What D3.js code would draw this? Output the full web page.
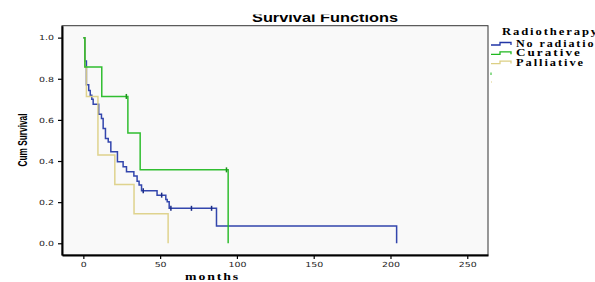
<!DOCTYPE html>
<html>
<head>
<meta charset="utf-8">
<script src="https://cdn.jsdelivr.net/npm/d3@7"></script>
<style>
  body { margin: 0; background: #fff; }
  svg { display: block; }
</style>
</head>
<body>
<script>
// Data (months, cumulative survival)
const groups = ["No radiation", "Curative", "Palliative"];
const colors = ["#2236a6", "#1fb81f", "#dccf84"];

const noRadTime = [0, 1, 2, 3.5, 4.5, 5.5, 6.4, 10, 11.8, 12.9, 14.4, 16.2, 17.9, 22.2, 25.9, 28.1, 32.9, 35, 36.3, 37.9, 48, 53.7, 54.6, 55.9, 86.7, 204];
const noRadSurv = [1, 0.886, 0.771, 0.743, 0.72, 0.7, 0.676, 0.628, 0.607, 0.558, 0.51, 0.493, 0.445, 0.396, 0.372, 0.348, 0.327, 0.302, 0.283, 0.255, 0.234, 0.213, 0.202, 0.17, 0.084, 0];
const noRadCensor = [39, 51, 57, 70.4, 83.5];

const curTime = [0, 1, 12, 29, 37, 94.3];
const curSurv = [1, 0.857, 0.714, 0.536, 0.357, 0];
const curCensor = [28, 93.2];

const palTime = [0, 1, 2, 9.5, 20.5, 33, 55.2];
const palSurv = [1, 0.857, 0.714, 0.429, 0.286, 0.143, 0];
const palCensor = [];

const xTicks = [0, 50, 100, 150, 200, 250];
const yTicks = [0, 0.2, 0.4, 0.6, 0.8, 1.0];

// Parameters
const w = 595;
const h = 282;
const plotL = 62, plotR = 488, plotT = 25.7, plotB = 255;

const svg = d3.select("body").append("svg").attr("width", w).attr("height", h);

const xScale = d3.scaleLinear().domain([-13.9, 263.5]).range([plotL, plotR]);
const yScale = d3.scaleLinear().domain([-0.057, 1.058]).range([plotB, plotT]);

// plot background + frame
svg.append("rect")
  .attr("x", plotL).attr("y", plotT)
  .attr("width", plotR - plotL).attr("height", plotB - plotT)
  .attr("fill", "#f9f9f9")
  .attr("stroke", "#333").attr("stroke-width", 1);

// axes
const digitW = (s) => s.split("").reduce((a, c) => a + (c === "." ? 3 : 6), 0);

const xAxis = d3.axisBottom(xScale).tickValues(xTicks).tickSize(4).tickSizeOuter(0).tickPadding(3).tickFormat(d3.format("d"));
const yAxis = d3.axisLeft(yScale).tickValues(yTicks).tickSize(4).tickSizeOuter(0).tickPadding(4).tickFormat(d3.format(".1f"));

const gx = svg.append("g")
  .attr("transform", "translate(0," + plotB + ")")
  .call(xAxis);
const gy = svg.append("g")
  .attr("transform", "translate(" + plotL + ",0)")
  .call(yAxis);

[gx, gy].forEach((g) => {
  g.select(".domain").attr("stroke", "#000").attr("stroke-width", 2);
  g.selectAll(".tick line").attr("stroke", "#000").attr("stroke-width", 1.2);
  g.selectAll(".tick text")
    .attr("font-family", "DejaVu Sans, sans-serif")
    .attr("font-size", 7)
    .attr("fill", "#222")
    .attr("textLength", function () { return digitW(this.textContent); })
    .attr("lengthAdjust", "spacingAndGlyphs");
});

// curves
const line = d3.line()
  .x((d) => xScale(d[0]))
  .y((d) => yScale(d[1]))
  .curve(d3.curveStepAfter);

const stepAt = (times, surv, t) => {
  let s = surv[0];
  times.forEach((ti, i) => { if (ti <= t) s = surv[i]; });
  return s;
};

const series = [
  { time: noRadTime, surv: noRadSurv, censor: noRadCensor, color: colors[0] },
  { time: palTime, surv: palSurv, censor: palCensor, color: colors[2] },
  { time: curTime, surv: curSurv, censor: curCensor, color: colors[1] },
];

series.forEach((s) => {
  const pts = s.time.map((t, i) => [t, s.surv[i]]);
  svg.append("path")
    .datum(pts)
    .attr("d", line)
    .attr("fill", "none")
    .attr("stroke", s.color)
    .attr("stroke-width", 1.5)
    .attr("opacity", 0.92);

  svg.selectAll(null)
    .data(s.censor)
    .enter()
    .append("line")
    .attr("x1", (d) => xScale(d))
    .attr("x2", (d) => xScale(d))
    .attr("y1", (d) => yScale(stepAt(s.time, s.surv, d)) - 2.5)
    .attr("y2", (d) => yScale(stepAt(s.time, s.surv, d)) + 2.5)
    .attr("stroke", d3.color(s.color).darker(0.6))
    .attr("stroke-width", 1.5);
});

// title (top of it cut off, as in the reference)
svg.append("clipPath").attr("id", "titleclip")
  .append("rect").attr("x", 0).attr("y", 14.5).attr("width", w).attr("height", 20);
svg.append("text")
  .attr("clip-path", "url(#titleclip)")
  .attr("x", 252).attr("y", 22)
  .attr("font-family", "Liberation Sans, Arial, sans-serif")
  .attr("font-weight", "bold")
  .attr("font-size", 13)
  .attr("textLength", 146)
  .attr("lengthAdjust", "spacingAndGlyphs")
  .text("Survival Functions");

// axis titles
svg.append("text")
  .attr("transform", "translate(27,140) rotate(-90)")
  .attr("text-anchor", "middle")
  .attr("font-family", "Liberation Sans Narrow, Arial Narrow, Liberation Sans, sans-serif")
  .attr("font-weight", "bold")
  .attr("font-size", 12)
  .attr("textLength", 53)
  .attr("lengthAdjust", "spacingAndGlyphs")
  .text("Cum Survival");

svg.append("text")
  .attr("x", 185).attr("y", 280)
  .attr("font-family", "Liberation Serif, Times New Roman, serif")
  .attr("font-weight", "bold")
  .attr("font-size", 11)
  .attr("letter-spacing", 1.5)
  .attr("textLength", 55)
  .attr("lengthAdjust", "spacingAndGlyphs")
  .text("months");

// legend
const legend = svg.append("g")
  .attr("font-family", "Liberation Serif, Times New Roman, serif")
  .attr("font-weight", "bold")
  .attr("letter-spacing", 1.5);
legend.append("text")
  .attr("x", 502).attr("y", 35)
  .attr("font-size", 10)
  .attr("textLength", 97)
  .attr("lengthAdjust", "spacingAndGlyphs")
  .text("Radiotherapy");

const legendLen = [88, 66, 69];
groups.forEach((g, i) => {
  const y = 45 + i * 9.3;
  legend.append("path")
    .attr("d", "M491," + y + "H500V" + (y - 2.5) + "H511V" + y)
    .attr("fill", "none")
    .attr("stroke", colors[i])
    .attr("stroke-width", 1.3);
  legend.append("text")
    .attr("x", 516).attr("y", y + 2)
    .attr("font-size", 9.5)
    .attr("textLength", legendLen[i])
    .attr("lengthAdjust", "spacingAndGlyphs")
    .text(g);
});

// tiny censor legend glyphs
legend.append("line").attr("x1", 491).attr("x2", 491).attr("y1", 72.5).attr("y2", 75).attr("stroke", colors[1]).attr("stroke-width", 1);
legend.append("line").attr("x1", 491).attr("x2", 492).attr("y1", 82).attr("y2", 82).attr("stroke", colors[2]).attr("stroke-width", 1);
</script>
</body>
</html>
